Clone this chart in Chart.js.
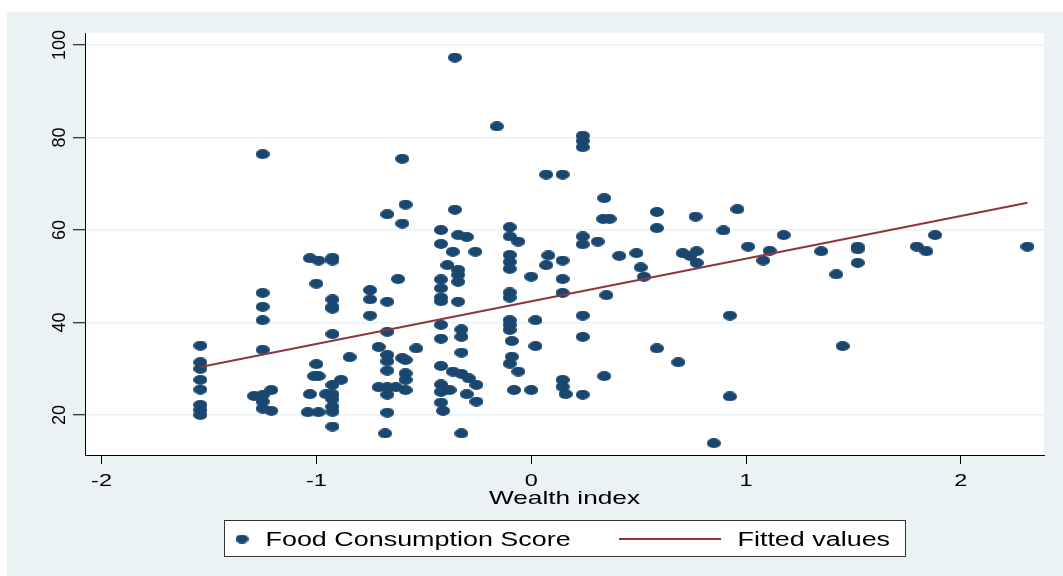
<!DOCTYPE html>
<html>
<head>
<meta charset="utf-8">
<title>Food Consumption Score vs Wealth index</title>
<script src="https://cdn.jsdelivr.net/npm/chart.js@4/dist/chart.umd.min.js"></script>
<style>
  html, body { margin: 0; padding: 0; background: #ffffff; }
  canvas { display: block; }
</style>
</head>
<body>
<canvas id="chart" width="1063" height="576" style="width:1063px;height:576px"></canvas>
<script>
// Household observations: wealth index (x) and food consumption score (y)
const wealthIndex = [
  -1.54, -1.54, -1.54, -1.54, -1.54, -1.54, -1.54, -1.54,
  -1.25, -1.25, -1.25, -1.25, -1.25, -1.25, -1.25, -1.25,
  -1.29, -1.21, -1.21,
  -1.03, -1.03, -0.99, -0.99, -0.99, -1.00, -1.00, -1.01, -1.04,
  -0.925, -0.925, -0.925, -0.925, -0.925, -0.925, -0.925, -0.925, -0.925, -0.925, -0.925, -0.925,
  -0.955, -0.885, -0.845,
  -0.75, -0.75, -0.75, -0.71, -0.71,
  -0.67, -0.67, -0.67, -0.67, -0.67, -0.67, -0.67, -0.67, -0.67,
  -0.68, -0.63,
  -0.60, -0.60, -0.60, -0.585, -0.585, -0.585, -0.585, -0.585, -0.62, -0.535,
  -0.42, -0.42, -0.42, -0.42, -0.42, -0.42, -0.42, -0.42, -0.42, -0.42, -0.42, -0.42,
  -0.41, -0.38, -0.39, -0.365, -0.365, -0.355, -0.355,
  -0.34, -0.34, -0.34, -0.34, -0.34, -0.30, -0.30,
  -0.325, -0.325, -0.325, -0.325, -0.325, -0.29, -0.255, -0.255, -0.26,
  -0.16,
  -0.10, -0.10, -0.10, -0.10, -0.10, -0.10, -0.10, -0.10, -0.10, -0.10, -0.10,
  -0.06, -0.06, -0.09, -0.09, -0.08,
  0.00, 0.00, 0.02, 0.02, 0.07, 0.07, 0.08,
  0.146, 0.146, 0.146, 0.146, 0.146, 0.146, 0.16,
  0.24, 0.24, 0.24, 0.24, 0.24, 0.24, 0.24, 0.24,
  0.31, 0.34, 0.34, 0.335, 0.365, 0.35,
  0.41, 0.49, 0.51, 0.525, 0.585, 0.585, 0.585, 0.685,
  0.705, 0.74, 0.77, 0.77, 0.765, 0.85, 0.895, 0.925, 0.925, 0.96,
  1.01, 1.11, 1.08, 1.175, 1.35, 1.42, 1.45, 1.52, 1.52, 1.52,
  1.795, 1.84, 1.88, 2.31
];
const foodScore = [
  35.0, 31.4, 30.0, 27.6, 25.5, 22.2, 21.1, 20.0,
  76.4, 46.4, 43.4, 40.5, 34.1, 24.3, 22.9, 21.4,
  24.1, 25.4, 20.9,
  53.9, 24.5, 53.4, 28.4, 20.6, 48.4, 31.0, 28.4, 20.6,
  54.0, 53.4, 45.0, 43.4, 43.0, 37.5, 26.5, 24.5, 23.4, 21.8, 20.7, 17.5,
  24.5, 27.6, 32.5,
  47.0, 45.0, 41.5, 34.7, 26.0,
  63.4, 44.5, 38.0, 33.0, 31.6, 29.6, 26.0, 24.4, 20.5,
  16.0, 26.0,
  75.4, 61.4, 32.3, 65.5, 31.9, 29.0, 27.6, 25.4, 49.4, 34.4,
  60.0, 57.0, 49.3, 47.4, 45.4, 44.6, 39.5, 36.5, 30.6, 26.6, 25.0, 22.7,
  20.9, 25.4, 52.4, 55.3, 29.4, 97.3, 64.4,
  58.9, 51.4, 50.3, 48.8, 44.5, 58.5, 24.5,
  38.5, 36.9, 33.5, 28.9, 16.0, 27.9, 26.5, 22.9, 55.3,
  82.4,
  60.6, 58.6, 54.6, 53.1, 51.6, 46.5, 45.4, 40.5, 39.5, 38.4, 31.1,
  57.5, 29.4, 36.0, 32.6, 25.4,
  49.9, 25.4, 40.5, 34.9, 72.0, 52.4, 54.5,
  72.0, 53.4, 49.4, 46.4, 27.6, 26.1, 24.5,
  80.4, 79.3, 77.9, 58.6, 56.9, 41.5, 36.9, 24.4,
  57.5, 66.9, 28.4, 62.4, 62.4, 45.9,
  54.4, 55.0, 51.9, 49.9, 63.9, 60.4, 34.4, 31.4,
  55.0, 54.4, 55.4, 52.9, 62.9, 13.9, 59.9, 41.5, 24.0, 64.5,
  56.4, 55.5, 53.4, 58.9, 55.4, 50.4, 34.9, 56.4, 55.8, 52.9,
  56.4, 55.4, 58.9, 56.4
];

// Ends of the least-squares line
const fittedX = [-1.54, 2.31];
const fittedY = [30.4, 65.9];

const xTickValues = [-2, -1, 0, 1, 2];
const yTickValues = [20, 40, 60, 80, 100];

const seriesNames = ['Food Consumption Score', 'Fitted values'];
const xAxisTitle = 'Wealth index';

const NAVY = '#1a476f';
const MAROON = '#90353b';
const TINT = '#eaf2f3';
const INK = '#000000';
const FONT = '"Liberation Sans", Arial, Helvetica, sans-serif';
const WIDE = 1.38; // horizontal stretch of the lettering

// Filled ellipse used as the scatter marker
function ellipseMarker(w, h, color) {
  const c = document.createElement('canvas');
  c.width = w; c.height = h;
  const g = c.getContext('2d');
  g.fillStyle = color;
  g.beginPath();
  g.ellipse(w / 2, h / 2, w / 2, h / 2, 0, 0, Math.PI * 2);
  g.fill();
  return c;
}
const marker = ellipseMarker(14, 10, NAVY);
const legendMarker = ellipseMarker(13, 9, NAVY);

const scatterPoints = wealthIndex.map((x, i) => ({ x: x, y: foodScore[i] }));
const fitPoints = fittedX.map((x, i) => ({ x: x, y: fittedY[i] }));

function wideText(ctx, text, x, y) {
  ctx.save();
  ctx.translate(x, y);
  ctx.scale(WIDE, 1);
  ctx.fillText(text, 0, 0);
  ctx.restore();
}

// Backgrounds, axis labels, title and boxed legend
const decorations = {
  id: 'decorations',
  beforeDraw(chart) {
    const { ctx, chartArea: a } = chart;
    ctx.save();
    ctx.fillStyle = '#ffffff';
    ctx.fillRect(0, 0, chart.width, chart.height);
    ctx.fillStyle = TINT;
    ctx.fillRect(7, 12, chart.width - 7, chart.height - 12);
    ctx.fillStyle = '#ffffff';
    ctx.fillRect(a.left, a.top, a.right - a.left, a.bottom - a.top);
    ctx.restore();
  },
  afterDraw(chart) {
    const { ctx } = chart;
    const xs = chart.scales.x, ys = chart.scales.y;
    ctx.save();
    ctx.fillStyle = INK;

    // vertical tick labels on the y axis
    ctx.font = '18px ' + FONT;
    ctx.textAlign = 'center';
    ctx.textBaseline = 'alphabetic';
    ys.ticks.forEach(t => {
      const py = ys.getPixelForValue(t.value);
      ctx.save();
      ctx.translate(65, py);
      ctx.rotate(-Math.PI / 2);
      ctx.fillText(String(t.value), 0, 0);
      ctx.restore();
    });

    // x tick labels
    ctx.font = '17px ' + FONT;
    xs.ticks.forEach(t => {
      wideText(ctx, String(t.value), xs.getPixelForValue(t.value), 486);
    });

    // x axis title
    ctx.font = '19px ' + FONT;
    wideText(ctx, xAxisTitle, (chart.chartArea.left + chart.chartArea.right) / 2, 504);

    // legend box
    const ds = chart.data.datasets;
    ctx.fillStyle = '#ffffff';
    ctx.fillRect(225, 521, 680, 36);
    ctx.strokeStyle = '#333333';
    ctx.lineWidth = 1;
    ctx.strokeRect(224.5, 520.5, 681, 36);
    ctx.drawImage(legendMarker, 242 - 6.5, 539 - 4.5);
    ctx.fillStyle = INK;
    ctx.textAlign = 'left';
    ctx.font = '19.5px ' + FONT;
    wideText(ctx, ds[1].label, 265.5, 545.5);
    ctx.strokeStyle = MAROON;
    ctx.lineWidth = 2;
    ctx.beginPath();
    ctx.moveTo(619, 539);
    ctx.lineTo(721, 539);
    ctx.stroke();
    wideText(ctx, ds[0].label, 737.5, 545.5);
    ctx.restore();
  }
};

new Chart(document.getElementById('chart'), {
  type: 'scatter',
  data: {
    datasets: [
      {
        label: seriesNames[1],
        data: fitPoints,
        showLine: true,
        borderColor: MAROON,
        borderWidth: 2,
        pointRadius: 0,
        fill: false,
        order: 0
      },
      {
        label: seriesNames[0],
        data: scatterPoints,
        pointStyle: marker,
        pointRadius: 7,
        backgroundColor: NAVY,
        borderColor: NAVY,
        order: 1
      }
    ]
  },
  options: {
    responsive: false,
    animation: false,
    devicePixelRatio: 1,
    layout: { padding: { left: 0, top: 33, right: 19, bottom: 0 } },
    plugins: {
      legend: { display: false },
      tooltip: { enabled: false },
      title: { display: false }
    },
    scales: {
      x: {
        type: 'linear',
        min: -2.077,
        max: 2.387,
        afterBuildTicks: s => { s.ticks = xTickValues.map(v => ({ value: v })); },
        afterFit: s => { s.height = 121; },
        ticks: { display: false },
        grid: {
          display: true,
          drawOnChartArea: false,
          drawTicks: true,
          tickLength: 9,
          tickColor: INK,
          tickWidth: 1
        },
        border: { display: true, color: INK, width: 1 }
      },
      y: {
        type: 'linear',
        min: 11.35,
        max: 102.6,
        afterBuildTicks: s => { s.ticks = yTickValues.map(v => ({ value: v })); },
        afterFit: s => { s.width = 85; },
        ticks: { display: false },
        grid: {
          display: true,
          drawOnChartArea: true,
          color: TINT,
          lineWidth: 1.5,
          drawTicks: true,
          tickLength: 12,
          tickColor: INK,
          tickWidth: 1
        },
        border: { display: true, color: INK, width: 1 }
      }
    }
  },
  plugins: [decorations]
});
</script>
</body>
</html>
